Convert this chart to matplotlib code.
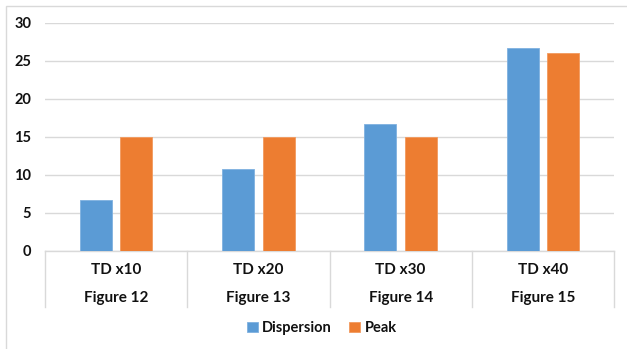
import matplotlib.pyplot as plt
from matplotlib.patches import Rectangle
from matplotlib.transforms import blended_transform_factory
import numpy as np

# data
td_labels = ["TD x10", "TD x20", "TD x30", "TD x40"]
figure_labels = ["Figure 12", "Figure 13", "Figure 14", "Figure 15"]
dispersion = [6.7, 10.7, 16.7, 26.7]
peak = [15, 15, 15, 26]

blue = "#5B9BD5"
orange = "#ED7D31"
grid_col = "#D9D9D9"

plt.rcParams['font.family'] = ['Lato', 'DejaVu Sans']

fig = plt.figure(figsize=(6.27, 3.49), dpi=100)
ax = fig.add_axes([0.0718, 0.2817, 0.9075, 0.6533])

x = np.arange(len(td_labels))
w = 0.225
ax.bar(x - 0.142, dispersion, w, color=blue, edgecolor="#7FB1E0", linewidth=0.6, label="Dispersion", zorder=3)
ax.bar(x + 0.142, peak, w, color=orange, edgecolor="#F29A5E", linewidth=0.6, label="Peak", zorder=3)

ax.set_xlim(-0.5, 3.5)
ax.set_ylim(0, 30)
ax.set_yticks(range(0, 31, 5))
ax.yaxis.grid(True, color=grid_col, linewidth=1.0, zorder=0)
ax.tick_params(axis="y", length=0, pad=10, labelsize=10.5, labelcolor="#111111")
for lbl in ax.get_yticklabels():
    lbl.set_fontweight("bold")
ax.set_xticks([])
for s in ["left", "top", "right"]:
    ax.spines[s].set_visible(False)
ax.spines["bottom"].set_color(grid_col)
ax.spines["bottom"].set_linewidth(1.0)

# two-level category axis
trans = blended_transform_factory(ax.transData, ax.transAxes)
for xs in np.arange(-0.5, 4.0, 1.0):
    ax.plot([xs, xs], [0, -0.247], color=grid_col, linewidth=1.0, transform=trans, clip_on=False)
for i in range(len(td_labels)):
    ax.text(i, -0.085, td_labels[i], transform=trans, ha="center", va="center",
            fontsize=11, fontweight="bold", color="#111111")
    ax.text(i, -0.207, figure_labels[i], transform=trans, ha="center", va="center",
            fontsize=11, fontweight="bold", color="#111111")

leg = fig.legend(loc="center", bbox_to_anchor=(0.513, 0.06), ncol=2, frameon=False,
                 prop={"weight": "bold", "size": 10.5}, handlelength=0.75, handleheight=0.75,
                 handletextpad=0.3, columnspacing=1.2)
for t in leg.get_texts():
    t.set_color("#111111")

# outer chart border
fig.patches.append(Rectangle((6 / 627, -0.1), 1.2, 1.1 - 6 / 349,
                             transform=fig.transFigure, fill=False,
                             edgecolor=grid_col, linewidth=1.0))

fig.savefig("out.png", dpi=100)
